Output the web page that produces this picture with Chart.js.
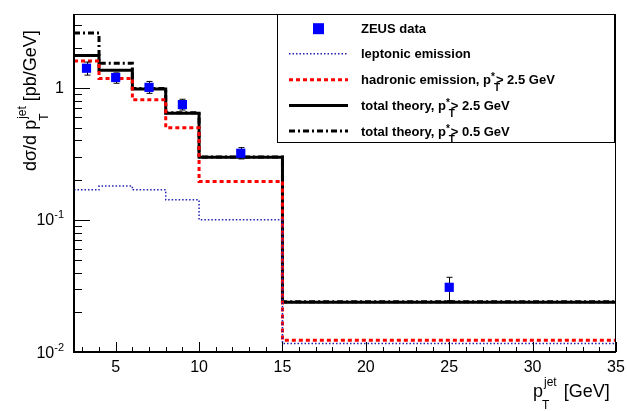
<!DOCTYPE html>
<html><head><meta charset="utf-8">
<script src="https://cdn.jsdelivr.net/npm/chart.js@4"></script>
<style>html,body{margin:0;padding:0;background:#fff;}#wrap{width:627px;height:411px;}</style>
</head><body><div id="wrap"><canvas id="c" width="627" height="411"></canvas></div>
<script>
const binEdges = [2.5, 4, 6, 8, 10, 15, 35];
const leptonic = [0.169, 0.181, 0.169, 0.142, 0.1005, 0.0116];
const hadronic = [1.60, 1.18, 0.815, 0.50, 0.196, 0.0123];
const total25 = [1.76, 1.36, 0.98, 0.643, 0.298, 0.0238];
const total05 = [2.61, 1.54, 0.99, 0.65, 0.30, 0.0240];
const dataX = [3.25, 5, 7, 9, 12.5, 25];
const dataY = [1.41, 1.20, 1.01, 0.748, 0.32, 0.0309];
const dataHi = [1.57, 1.30, 1.12, 0.821, 0.353, 0.0368];
const dataLo = [1.25, 1.085, 0.91, 0.68, 0.29, 0.0245];
const xTicks = [5, 10, 15, 20, 25, 30, 35];
const yTickValues = [0.01, 0.1, 1];
const yTickBase = ['10', '10', '1'];
const yTickExp = ['-2', '-1', ''];

const FONT = '"Liberation Sans", Arial, sans-serif';

function hist(vals) {
  // point i opens bin i (last edge repeats the last bin value)
  return binEdges.map((e, i) => ({x: e, y: vals[Math.min(i, vals.length - 1)]}));
}

function richWidth(ctx, parts) {
  let w = 0;
  for (const p of parts) {
    ctx.font = (p.bold ? 'bold ' : '') + p.size + 'px ' + FONT;
    w += ctx.measureText(p.t).width + (p.dx || 0);
  }
  return w;
}
function drawRich(ctx, parts, x, y) {
  let cx = x;
  for (const p of parts) {
    ctx.font = (p.bold ? 'bold ' : '') + p.size + 'px ' + FONT;
    cx += (p.pre || 0);
    ctx.fillText(p.t, cx, y + (p.dy || 0));
    cx += ctx.measureText(p.t).width + (p.dx || 0);
  }
  return cx;
}

const decor = {
  id: 'decor',
  beforeDatasetDraw(chart, args) {
    if (args.index !== 0) return;
    const ctx = chart.ctx, xs = chart.scales.x, ys = chart.scales.y;
    ctx.save();
    ctx.strokeStyle = '#000';
    ctx.lineWidth = 1;
    for (let i = 0; i < dataX.length; i++) {
      const px = Math.round(xs.getPixelForValue(dataX[i])) + 0.5;
      const yh = ys.getPixelForValue(dataHi[i]);
      const yl = ys.getPixelForValue(dataLo[i]);
      ctx.beginPath();
      ctx.moveTo(px, yh); ctx.lineTo(px, yl);
      ctx.moveTo(px - 3, yh); ctx.lineTo(px + 3, yh);
      ctx.moveTo(px - 3, yl); ctx.lineTo(px + 3, yl);
      ctx.stroke();
    }
    ctx.restore();
  },
  afterDraw(chart) {
    const ctx = chart.ctx, xs = chart.scales.x, ys = chart.scales.y;
    const a = chart.chartArea;
    ctx.save();
    // frame
    ctx.strokeStyle = '#000';
    ctx.lineWidth = 1;
    ctx.strokeRect(a.left + 0.5, a.top + 0.5, a.right - a.left - 1, a.bottom - a.top - 1);
    ctx.lineWidth = 2;
    ctx.beginPath();
    ctx.moveTo(a.left, a.top); ctx.lineTo(a.left, a.bottom); ctx.lineTo(a.right, a.bottom);
    ctx.stroke();
    // x ticks
    ctx.lineWidth = 1;
    ctx.beginPath();
    for (let v = 3; v <= 35; v++) {
      const px = Math.round(xs.getPixelForValue(v)) + 0.5;
      const major = v % 5 === 0;
      ctx.moveTo(px, a.bottom); ctx.lineTo(px, a.bottom - (major ? 10 : 5));
    }
    // y ticks
    for (let d = -2; d <= 0; d++) {
      for (let m = 1; m <= 9; m++) {
        const v = m * Math.pow(10, d);
        if (v > ys.max) break;
        const py = Math.round(ys.getPixelForValue(v)) + 0.5;
        ctx.moveTo(a.left, py); ctx.lineTo(a.left + (m === 1 ? 16 : 8), py);
      }
    }
    ctx.stroke();
    // x tick labels
    ctx.fillStyle = '#000';
    ctx.font = '16px ' + FONT;
    ctx.textAlign = 'center';
    ctx.textBaseline = 'alphabetic';
    for (const t of xTicks) {
      ctx.fillText(String(t), xs.getPixelForValue(t), 372);
    }
    // y tick labels
    ctx.textAlign = 'left';
    for (let i = 0; i < yTickValues.length; i++) {
      const py = ys.getPixelForValue(yTickValues[i]);
      const parts = [{t: yTickBase[i], size: 16}];
      if (yTickExp[i]) parts.push({t: yTickExp[i], size: 11, dy: -7});
      const w = richWidth(ctx, parts);
      drawRich(ctx, parts, 64 - w, py + 5.5);
    }
    // x axis title
    ctx.font = '18px ' + FONT;
    let x0 = 533;
    ctx.fillText('p', x0, 397);
    let pw = ctx.measureText('p').width;
    ctx.font = '12px ' + FONT;
    ctx.fillText('jet', x0 + pw + 1, 386);
    const jw = ctx.measureText('jet').width;
    ctx.fillText('T', x0 + pw - 1, 409);
    ctx.font = '18px ' + FONT;
    ctx.fillText(' [GeV]', x0 + pw + jw + 3, 397);
    // y axis title
    ctx.save();
    ctx.translate(36, 171);
    ctx.rotate(-Math.PI / 2);
    ctx.font = '18px ' + FONT;
    ctx.fillText('d\u03c3/d p', 0, 0);
    let w1 = ctx.measureText('d\u03c3/d p').width;
    ctx.font = '12px ' + FONT;
    ctx.fillText('jet', w1 + 1, -10);
    const jw2 = ctx.measureText('jet').width;
    ctx.fillText('T', w1 - 1, 12);
    ctx.font = '18px ' + FONT;
    ctx.fillText(' [pb/GeV]', w1 + jw2 + 1, 0);
    ctx.restore();

    // legend
    const L = {l: 277, t: 14, r: 615, b: 143};
    ctx.fillStyle = '#fff';
    ctx.fillRect(L.l, L.t, L.r - L.l, L.b - L.t);
    ctx.strokeStyle = '#000';
    ctx.lineWidth = 1;
    ctx.strokeRect(L.l + 0.5, L.t + 0.5, L.r - L.l - 1, L.b - L.t - 1);
    const rows = [28.7, 53.7, 79.7, 105.5, 131];
    ctx.fillStyle = '#0000ff';
    ctx.fillRect(313, rows[0] - 5.5, 11, 11);
    const lineSample = (y, color, width, dash) => {
      ctx.save();
      ctx.strokeStyle = color; ctx.lineWidth = width; ctx.setLineDash(dash);
      ctx.beginPath(); ctx.moveTo(289, y); ctx.lineTo(348, y); ctx.stroke();
      ctx.restore();
    };
    lineSample(rows[1], '#2020b0', 1.5, [1.5, 2]);
    lineSample(rows[2], '#ff0000', 3, [4, 3]);
    lineSample(rows[3], '#000', 3, []);
    lineSample(rows[4], '#000', 3, [6, 3, 2, 3]);
    ctx.fillStyle = '#000';
    const tx = 361;
    const bs = 13;
    const pstar = (base, cut, y) => {
      let cx = drawRich(ctx, [{t: base + 'p', size: bs, bold: true}], tx, y);
      ctx.font = 'bold 10px ' + FONT;
      ctx.fillText('*', cx, y - 4);
      const sw = ctx.measureText('*').width;
      ctx.fillText('T', cx + sw - 1, y + 7);
      drawRich(ctx, [{t: '> ' + cut + ' GeV', size: bs, bold: true}], cx + sw + 1, y);
    };
    drawRich(ctx, [{t: 'ZEUS data', size: bs, bold: true}], tx, rows[0] + 4.5);
    drawRich(ctx, [{t: 'leptonic emission', size: bs, bold: true}], tx, rows[1] + 4.5);
    pstar('hadronic emission, ', '2.5', rows[2] + 4.5);
    pstar('total theory, ', '2.5', rows[3] + 4.5);
    pstar('total theory, ', '0.5', rows[4] + 4.5);
    ctx.restore();
  }
};

new Chart(document.getElementById('c'), {
  type: 'line',
  data: {
    datasets: [
      {label: 'ZEUS data', data: dataX.map((x, i) => ({x, y: dataY[i]})), showLine: false,
       pointStyle: 'rect', pointRadius: 6.5, backgroundColor: '#0000ff', borderColor: '#0000ff', borderWidth: 0},
      {label: 'leptonic emission', data: hist(leptonic), stepped: 'before', borderColor: '#2020b0',
       borderWidth: 1.5, borderDash: [1.5, 2], pointRadius: 0, fill: false},
      {label: 'hadronic emission', data: hist(hadronic), stepped: 'before', borderColor: '#ff0000',
       borderWidth: 3, borderDash: [4, 3], pointRadius: 0, fill: false},
      {label: 'total theory 0.5', data: hist(total05), stepped: 'before', borderColor: '#000',
       borderWidth: 3, borderDash: [6, 3, 2, 3], pointRadius: 0, fill: false},
      {label: 'total theory 2.5', data: hist(total25), stepped: 'before', borderColor: '#000',
       borderWidth: 3, pointRadius: 0, fill: false}
    ]
  },
  options: {
    responsive: false,
    animation: false,
    layout: {padding: {left: 74, right: 11, top: 14, bottom: 59}},
    plugins: {legend: {display: false}, tooltip: {enabled: false}},
    scales: {
      x: {type: 'linear', min: 2.5, max: 35, display: false},
      y: {type: 'logarithmic', min: 0.01, max: 3.63, display: false}
    }
  },
  plugins: [decor]
});
</script>
</body></html>
